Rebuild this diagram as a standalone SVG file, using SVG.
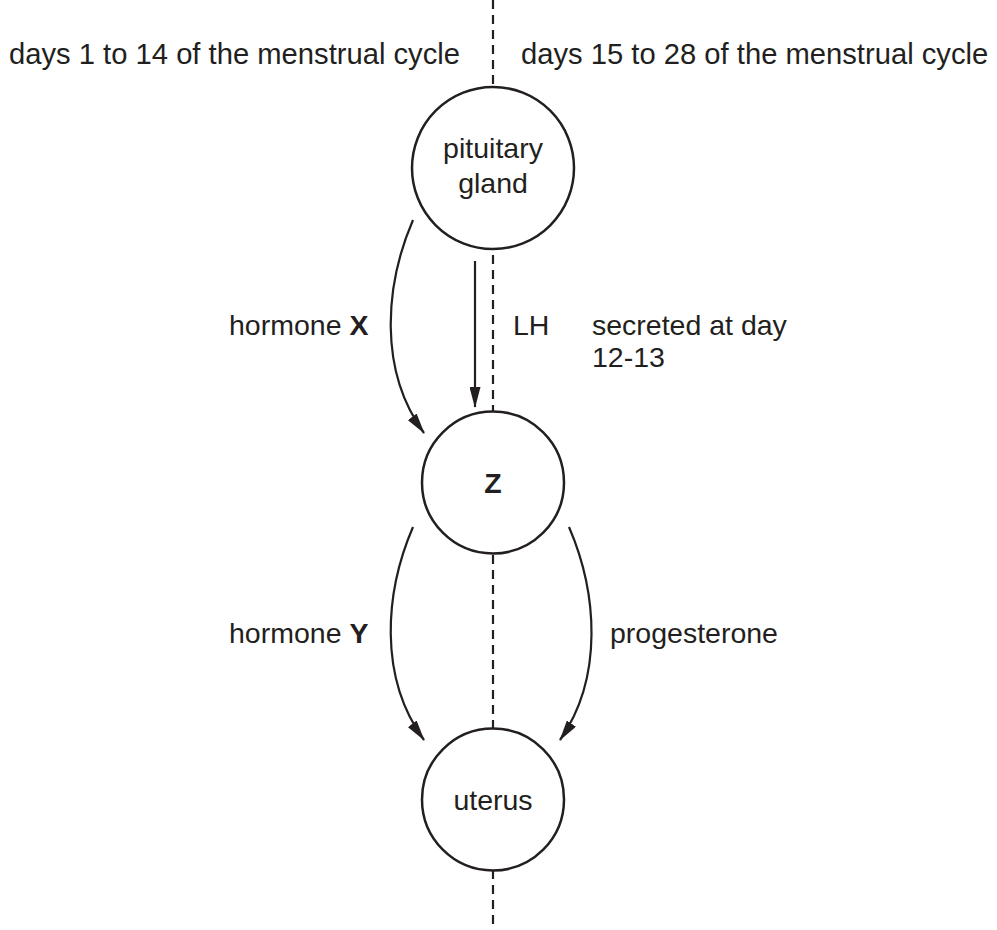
<svg xmlns="http://www.w3.org/2000/svg" width="997" height="930" viewBox="0 0 997 930">
<style>
text{font-family:"Liberation Sans",Arial,sans-serif;font-size:28.5px;fill:#231f20}
.h{font-size:29.2px}
.b{font-weight:bold}
.node{fill:#fff;stroke:#231f20;stroke-width:2.5}
.div{stroke:#231f20;stroke-width:2.2;stroke-dasharray:9 6;fill:none}
.edge{fill:none;stroke:#231f20;stroke-width:2.2}
</style>
<defs>
<marker id="ah" markerUnits="userSpaceOnUse" viewBox="0 -5.5 21 11" markerWidth="21" markerHeight="11" refX="20" refY="0" orient="auto">
<path d="M0,-5.5 L21,0 L0,5.5 Z" fill="#231f20"/>
</marker>
</defs>
<line class="div" x1="493" y1="0" x2="493" y2="928"/>
<text class="h" x="9" y="64">days 1 to 14 of the menstrual cycle</text>
<text class="h" x="521" y="64">days 15 to 28 of the menstrual cycle</text>
<g id="connectors">
<path class="edge" d="M413,220 C385,285 378,370 424,433" marker-end="url(#ah)"/>
<line class="edge" x1="475" y1="261" x2="475" y2="407" marker-end="url(#ah)"/>
<path class="edge" d="M413,527 C385,592 378,677 424,740" marker-end="url(#ah)"/>
<path class="edge" d="M569,527 C597,592 604,677 560,740" marker-end="url(#ah)"/>
<text x="229" y="335">hormone <tspan class="b">X</tspan></text>
<text x="513" y="335">LH</text>
<text x="592" y="335">secreted at day</text>
<text x="592" y="367">12-13</text>
<text x="229" y="643">hormone <tspan class="b">Y</tspan></text>
<text x="610" y="643">progesterone</text>
</g>
<g id="pituitary">
<circle class="node" cx="493" cy="168" r="81"/>
<text x="493" y="158" text-anchor="middle">pituitary</text>
<text x="493" y="193" text-anchor="middle">gland</text>
</g>
<g id="z">
<circle class="node" cx="493" cy="482.5" r="71"/>
<text class="b" x="493" y="493" text-anchor="middle">Z</text>
</g>
<g id="uterus">
<circle class="node" cx="493" cy="799.5" r="71"/>
<text x="493" y="810" text-anchor="middle">uterus</text>
</g>
</svg>
